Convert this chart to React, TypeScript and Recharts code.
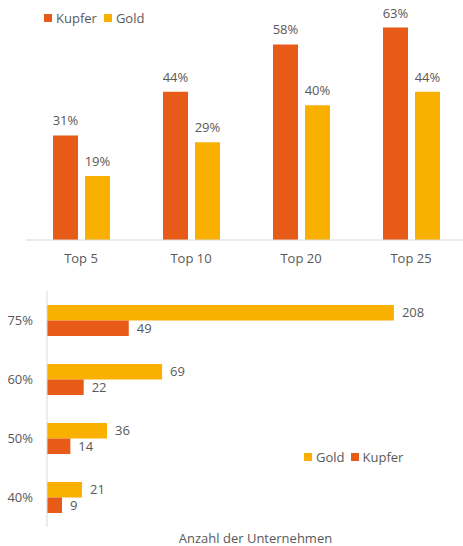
import React from 'react';
import { BarChart, Bar, XAxis, YAxis, LabelList, Legend } from 'recharts';

const topCategories = ['Top 5', 'Top 10', 'Top 20', 'Top 25'];
const topKupfer = [31, 44, 58, 63];
const topGold = [19, 29, 40, 44];

const bottomCategories = ['75%', '60%', '50%', '40%'];
const bottomGold = [208, 69, 36, 21];
const bottomKupfer = [49, 22, 14, 9];

const KUPFER = '#E85A17';
const GOLD = '#F9B000';
const TEXT = '#595959';
const AXIS = '#D9D9D9';
const FONT = '"Open Sans", "Noto Sans", sans-serif';

const topData = topCategories.map((c, i) => ({ name: c, Kupfer: topKupfer[i], Gold: topGold[i] }));
const bottomData = bottomCategories.map((c, i) => ({ name: c, Gold: bottomGold[i], Kupfer: bottomKupfer[i] }));

type Item = { label: string; color: string };

const LegendBox = ({ items, gap }: { items: Item[]; gap: number }) => (
  <div style={{ display: 'flex', alignItems: 'center', fontFamily: FONT, fontSize: 13, color: TEXT, whiteSpace: 'nowrap', lineHeight: '16px' }}>
    {items.map((it, i) => (
      <div key={it.label} style={{ display: 'flex', alignItems: 'center', marginRight: i < items.length - 1 ? gap : 0 }}>
        <span style={{ display: 'inline-block', width: 8, height: 8, background: it.color, marginRight: 4 }} />
        <span>{it.label}</span>
      </div>
    ))}
  </div>
);

const pct = (v: any) => `${v}%`;

export default function App() {
  return (
    <div style={{ position: 'absolute', left: 0, top: 0, width: 463, height: 546, overflow: 'hidden', background: '#fff', fontFamily: FONT }}>
      <div style={{ position: 'absolute', left: 0, top: 0 }}>
        <BarChart width={470} height={270} data={topData} margin={{ top: 4, right: 4, bottom: 0, left: 26 }} barSize={25} barGap={7}>
          <XAxis dataKey="name" axisLine={{ stroke: AXIS }} tickLine={false} height={30} tickMargin={8}
            tick={{ fill: TEXT, fontSize: 13, fontFamily: FONT }} />
          <YAxis hide domain={[0, 70]} />
          <Legend layout="vertical" align="center" verticalAlign="middle"
            wrapperStyle={{ top: 10, left: 44, width: 'auto', height: 'auto' }}
            content={() => <LegendBox gap={7} items={[{ label: 'Kupfer', color: KUPFER }, { label: 'Gold', color: GOLD }]} />} />
          <Bar dataKey="Kupfer" fill={KUPFER} isAnimationActive={false}>
            <LabelList dataKey="Kupfer" position="top" offset={10} formatter={pct} fill={TEXT} fontSize={13} fontFamily={FONT} />
          </Bar>
          <Bar dataKey="Gold" fill={GOLD} isAnimationActive={false}>
            <LabelList dataKey="Gold" position="top" offset={10} formatter={pct} fill={TEXT} fontSize={13} fontFamily={FONT} />
          </Bar>
        </BarChart>
      </div>
      <div style={{ position: 'absolute', left: 0, top: 270 }}>
        <BarChart width={470} height={276} data={bottomData} layout="vertical" margin={{ top: 21, right: 6, bottom: 0, left: 0 }} barSize={15.5} barGap={0}>
          <XAxis type="number" domain={[0, 250]} axisLine={false} tick={false} tickLine={false} height={19}
            label={{ value: 'Anzahl der Unternehmen', position: 'insideBottom', offset: 3, fill: TEXT, fontSize: 13, fontFamily: FONT }} />
          <YAxis type="category" dataKey="name" width={47} axisLine={{ stroke: AXIS }} tickLine={false} tickMargin={8}
            tick={{ fill: TEXT, fontSize: 13, fontFamily: FONT }} />
          <Legend layout="vertical" align="center" verticalAlign="middle"
            wrapperStyle={{ top: 179, left: 304, width: 'auto', height: 'auto' }}
            content={() => <LegendBox gap={6} items={[{ label: 'Gold', color: GOLD }, { label: 'Kupfer', color: KUPFER }]} />} />
          <Bar dataKey="Gold" fill={GOLD} isAnimationActive={false}>
            <LabelList dataKey="Gold" position="right" offset={8} fill={TEXT} fontSize={13} fontFamily={FONT} />
          </Bar>
          <Bar dataKey="Kupfer" fill={KUPFER} isAnimationActive={false}>
            <LabelList dataKey="Kupfer" position="right" offset={8} fill={TEXT} fontSize={13} fontFamily={FONT} />
          </Bar>
        </BarChart>
      </div>
    </div>
  );
}
